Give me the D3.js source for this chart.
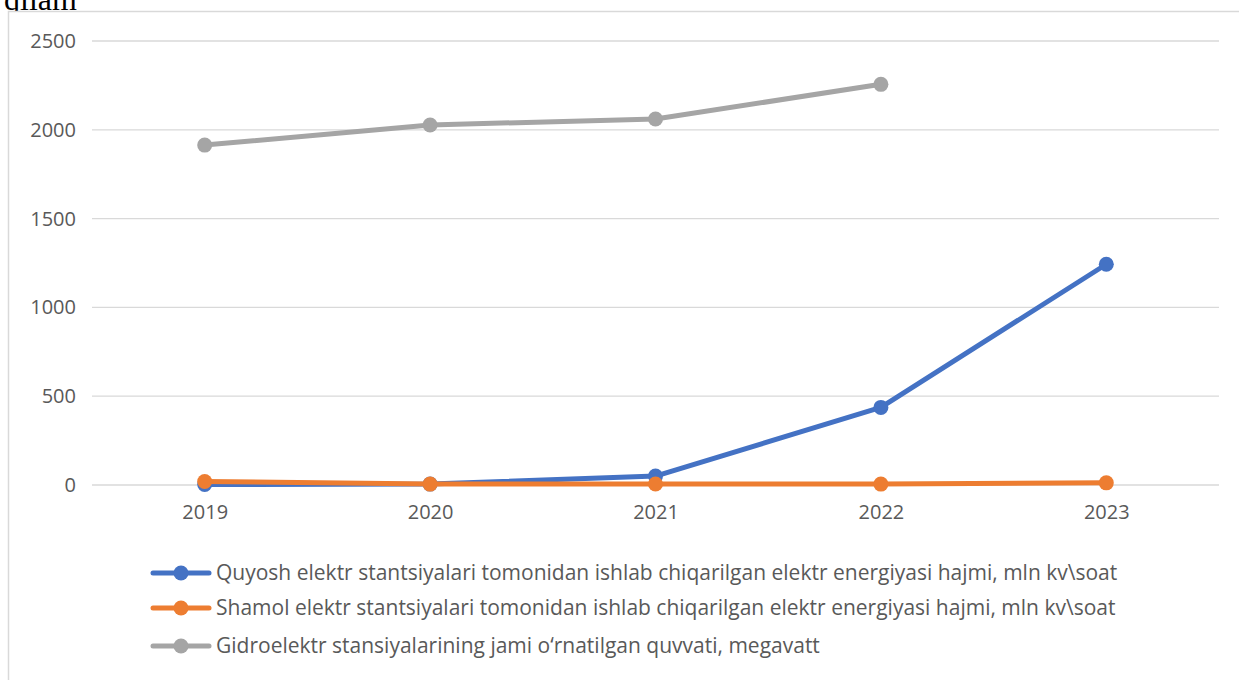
<!DOCTYPE html>
<html><head><meta charset="utf-8">
<script src="https://cdn.jsdelivr.net/npm/d3@7"></script>
<style>html,body{margin:0;padding:0;background:#fff;overflow:hidden}</style>
</head><body>
<svg id="c" width="1239" height="680"></svg>
<script>
const years = ["2019","2020","2021","2022","2023"];
const yTicks = [0,500,1000,1500,2000,2500];
const solar = [3,5,50,437,1243];
const wind = [20,5,6,5,12];
const hydro = [1914,2027,2061,2256,null];
const seriesNames = [
 "Quyosh elektr stantsiyalari tomonidan ishlab chiqarilgan elektr energiyasi hajmi, mln kv\\soat",
 "Shamol elektr stantsiyalari tomonidan ishlab chiqarilgan elektr energiyasi hajmi, mln kv\\soat",
 "Gidroelektr stansiyalarining jami o‘rnatilgan quvvati, megavatt"
];
const colors = ["#4472c4","#ed7d31","#a5a5a5"];
const titleText = "qilam";

const svg = d3.select("#c");
const font = "'Open Sans', 'Noto Sans', sans-serif";
svg.append("text").attr("x",4).attr("y",10).text(titleText)
  .attr("font-family","'Liberation Serif', serif").attr("font-size",32).attr("fill","#000");
svg.append("rect").attr("x",8.5).attr("y",11.5).attr("width",1250).attr("height",700)
  .attr("fill","#fff").attr("stroke","#d9d9d9").attr("stroke-width",1.5);

const x = d3.scalePoint().domain(years).range([92,1219]).padding(0.5);
const y = d3.scaleLinear().domain([0,2500]).range([485,41]);

const grid = svg.append("g");
grid.selectAll("line").data(yTicks).join("line")
  .attr("x1",92).attr("x2",1219).attr("y1",d=>y(d)).attr("y2",d=>y(d))
  .attr("stroke","#d9d9d9").attr("stroke-width",1.3);

const yAxis = svg.append("g").attr("transform","translate(76,0)")
  .call(d3.axisLeft(y).tickValues(yTicks).tickFormat(d3.format("d")).tickSize(0).tickPadding(0));
yAxis.select(".domain").remove();
yAxis.selectAll("text").attr("font-family",font).attr("font-size",20).attr("fill","#595959");

const xAxis = svg.append("g").attr("transform","translate(0,505)")
  .call(d3.axisBottom(x).tickSize(0).tickPadding(0));
xAxis.select(".domain").remove();
xAxis.selectAll("text").attr("font-family",font).attr("font-size",20).attr("fill","#595959").attr("dy","0.71em");

const all = [solar, wind, hydro];
const line = d3.line().defined(d=>d[1]!=null).x(d=>x(d[0])).y(d=>y(d[1]));
all.forEach((s,i)=>{
  const pts = years.map((yr,j)=>[yr,s[j]]);
  svg.append("path").attr("d",line(pts)).attr("fill","none")
    .attr("stroke",colors[i]).attr("stroke-width",5).attr("stroke-linejoin","round").attr("stroke-linecap","round");
  svg.append("g").selectAll("circle").data(pts.filter(d=>d[1]!=null)).join("circle")
    .attr("cx",d=>x(d[0])).attr("cy",d=>y(d[1])).attr("r",7.5).attr("fill",colors[i]);
});

const legY = [573,608,646];
const leg = svg.append("g");
seriesNames.forEach((n,i)=>{
  const g = leg.append("g").attr("transform",`translate(0,${legY[i]})`);
  g.append("line").attr("x1",153).attr("x2",209).attr("y1",0).attr("y2",0)
    .attr("stroke",colors[i]).attr("stroke-width",5).attr("stroke-linecap","round");
  g.append("circle").attr("cx",181).attr("cy",0).attr("r",7.5).attr("fill",colors[i]);
  g.append("text").attr("x",216).attr("y",0).attr("dy","0.35em").text(n)
    .attr("font-family",font).attr("font-size",21).attr("fill","#595959");
});
</script>
</body></html>
